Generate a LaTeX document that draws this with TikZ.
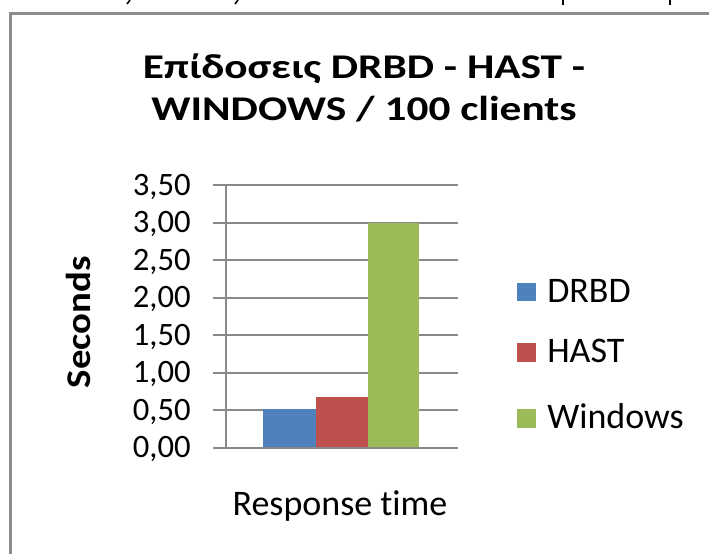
\documentclass[tikz,border=0pt]{standalone}
\usepackage{fontspec}
\setmainfont[Ligatures=NoCommon]{Carlito}
\newfontfamily\titlefont[FakeStretch=1.25,Ligatures=NoCommon]{Carlito}
\newfontfamily\ylabfont[FakeStretch=1.12,Ligatures=NoCommon]{Carlito}
\definecolor{frameg}{HTML}{8C8C8C}
\definecolor{gridg}{HTML}{898989}
\definecolor{sblue}{HTML}{4F81BD}
\definecolor{sred}{HTML}{C0504D}
\definecolor{sgreen}{HTML}{9BBB59}
\tikzset{
  gridln/.style={draw=gridg,line width=1.4pt},
  ticklbl/.style={anchor=base east,inner sep=0pt,font=\fontsize{24.5}{28}\selectfont},
  leglbl/.style={anchor=base west,inner sep=0pt,font=\fontsize{27}{30}\selectfont},
  titlelbl/.style={anchor=base,inner sep=0pt,font=\titlefont\fontsize{26}{31}\selectfont\bfseries},
}
\begin{document}
\begin{tikzpicture}[x=0.75pt,y=-0.75pt]
\useasboundingbox (0,0) rectangle (709,554);
\fill[white] (0,0) rectangle (709,554);
% fragments of text above the frame
\draw[line width=1.2pt,black] (130,0) -- (127,4);
\draw[line width=1.2pt,black] (238,0) -- (235,4);
\draw[line width=1.1pt,black] (563,0) -- (563,5);
\draw[line width=1.1pt,black] (670,0) -- (670,5);
% frame
\draw[frameg,line width=2.7pt] (10.3,554) -- (10.3,13.3) -- (709,13.3);
% title
\node[titlelbl] (title1) at (364,78) {Επίδοσεις DRBD - HAST -};
\node[titlelbl] (title2) at (364,120) {WINDOWS / 100 clients};
% gridlines
\foreach \v in {0,0.5,1,1.5,2,2.5,3,3.5}{
  \draw[gridln] (213,{447.7-75*\v}) -- (458,{447.7-75*\v});
}
\foreach \v/\l [count=\i] in {0/{0,00},0.5/{0,50},1/{1,00},1.5/{1,50},2/{2,00},2.5/{2,50},3/{3,00},3.5/{3,50}}{
  \node[ticklbl] (t\i) at (191,{447.7-75*\v+10}) {\l};
}
\draw[gridln] (226,185) -- (226,447.7);
% bars
\fill[sblue] (263.3,{447.7-75*0.52}) rectangle (316,447.7);
\fill[sred] (316,{447.7-75*0.67}) rectangle (368.3,447.7);
\fill[sgreen] (368.3,{447.7-75*3}) rectangle (419,447.7);
\draw[gridln] (213,447.7) -- (458,447.7);
% axis titles
\node[anchor=base,inner sep=0pt,font=\fontsize{27}{30}\selectfont] (xlab) at (340,515) {Response time};
\node[anchor=base,inner sep=0pt,rotate=90,font=\ylabfont\fontsize{26}{30}\selectfont\bfseries] (ylab) at (90.5,322) {Seconds};
% legend
\fill[sblue] (517,282.7) rectangle (536,300.7);
\fill[sred] (517,343) rectangle (536,361.7);
\fill[sgreen] (517,409) rectangle (536,428);
\node[leglbl] (l1) at (547,302) {DRBD};
\node[leglbl] (l2) at (547,362) {HAST};
\node[leglbl] (l3) at (547,428) {Windows};
\end{tikzpicture}
\end{document}
